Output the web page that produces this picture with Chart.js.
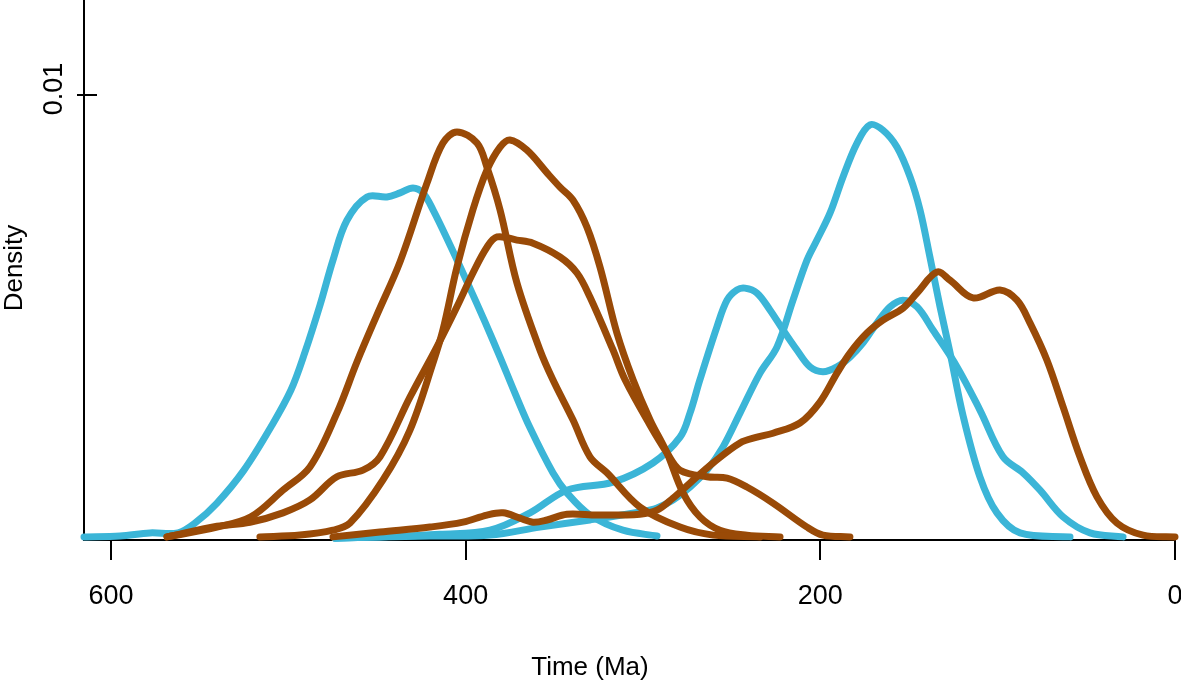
<!DOCTYPE html>
<html>
<head>
<meta charset="utf-8">
<script src="https://cdn.jsdelivr.net/npm/chart.js@4"></script>
<style>
  body { margin: 0; background: #fff; }
  #wrap { width: 1181px; height: 682px; position: relative; }
</style>
</head>
<body>
<div id="wrap"><canvas id="densityChart"></canvas></div>
<script>
// ticks
const xTicks = [600, 400, 200, 0];
const yTicks = [0.01];
const xMax = 615.2;
const yMax = 0.012135;

// blue curves (age in Ma, density)
const blueAAge = [615.2, 594.9, 578.0, 562.2, 552.6, 540.2, 525.0, 509.8, 498.5, 490.6, 482.1, 474.8, 467.0, 455.6, 444.4, 437.0, 429.7, 424.1, 418.4, 408.8, 399.2, 389.1, 380.6, 372.2, 363.7, 350.8, 342.9, 329.9, 311.3, 292.1];
const blueADens = [0.00007, 0.00009, 0.00016, 0.00016, 0.00038, 0.00083, 0.00157, 0.00254, 0.00337, 0.00422, 0.00528, 0.00629, 0.00718, 0.00771, 0.00771, 0.00780, 0.00791, 0.00780, 0.00742, 0.00663, 0.00580, 0.00490, 0.00411, 0.00330, 0.00252, 0.00151, 0.00106, 0.00056, 0.00022, 0.00009];

const blueBAge = [473.7, 448.3, 420.1, 386.3, 358.1, 329.9, 301.7, 292.1, 283.1, 273.5, 263.9, 254.9, 245.3, 234.0, 224.4, 215.4, 207.5, 201.9, 194.5, 187.2, 179.3, 172.0, 164.7, 156.8, 149.4, 143.8, 138.2, 132.5, 126.9, 119.6, 110.0, 100.4, 87.4, 59.2];
const blueBDens = [0.00004, 0.00007, 0.00009, 0.00011, 0.00029, 0.00045, 0.00063, 0.00072, 0.00090, 0.00119, 0.00157, 0.00209, 0.00285, 0.00375, 0.00434, 0.00539, 0.00629, 0.00674, 0.00735, 0.00816, 0.00892, 0.00933, 0.00921, 0.00883, 0.00816, 0.00742, 0.00636, 0.00524, 0.00422, 0.00281, 0.00142, 0.00061, 0.00016, 0.00007];

const blueCAge = [473.7, 448.3, 414.5, 386.3, 363.7, 342.9, 316.9, 294.4, 279.1, 273.5, 267.9, 258.3, 252.6, 247.0, 242.5, 235.7, 228.4, 221.0, 213.2, 205.8, 198.5, 190.6, 183.3, 175.9, 168.0, 160.7, 153.4, 145.5, 136.5, 122.9, 110.0, 97.0, 85.7, 76.1, 63.1, 47.9, 29.3];
const blueCDens = [0.00004, 0.00007, 0.00013, 0.00022, 0.00061, 0.00112, 0.00130, 0.00173, 0.00231, 0.00285, 0.00360, 0.00479, 0.00539, 0.00562, 0.00566, 0.00555, 0.00517, 0.00472, 0.00427, 0.00389, 0.00378, 0.00389, 0.00411, 0.00443, 0.00488, 0.00524, 0.00539, 0.00524, 0.00472, 0.00389, 0.00292, 0.00187, 0.00151, 0.00112, 0.00052, 0.00016, 0.00007];

// brown curves
const brownAAge = [568.4, 540.2, 521.1, 503.0, 487.8, 472.6, 461.3, 450.0, 437.0, 421.8, 412.8, 404.9, 393.6, 388.0, 380.6, 371.1, 358.1, 350.8, 339.5, 329.9, 320.3, 301.7, 279.1, 260.5, 234.0];
const brownADens = [0.00007, 0.00029, 0.00052, 0.00112, 0.00164, 0.00285, 0.00400, 0.00506, 0.00625, 0.00802, 0.00892, 0.00917, 0.00892, 0.00838, 0.00742, 0.00578, 0.00427, 0.00360, 0.00270, 0.00187, 0.00151, 0.00074, 0.00029, 0.00011, 0.00007];

const brownBAge = [516.0, 493.4, 474.8, 465.2, 446.6, 431.4, 418.4, 412.8, 404.9, 395.9, 388.0, 380.6, 375.0, 365.4, 354.1, 346.8, 339.5, 331.6, 324.2, 314.7, 305.6, 296.0, 286.5, 277.4, 267.9, 256.6, 241.4, 222.7];
const brownBDens = [0.00007, 0.00011, 0.00022, 0.00038, 0.00135, 0.00247, 0.00398, 0.00472, 0.00613, 0.00742, 0.00831, 0.00883, 0.00899, 0.00876, 0.00825, 0.00793, 0.00764, 0.00703, 0.00613, 0.00465, 0.00360, 0.00270, 0.00196, 0.00106, 0.00052, 0.00022, 0.00011, 0.00007];

const brownCAge = [568.4, 540.2, 521.6, 503.0, 487.8, 472.6, 457.9, 448.3, 431.4, 416.2, 404.9, 395.9, 388.0, 382.3, 371.1, 362.0, 346.8, 337.2, 329.9, 316.9, 310.1, 296.0, 286.5, 279.1, 263.9, 252.6, 241.4, 226.7, 207.5, 198.5, 183.3];
const brownCDens = [0.00007, 0.00031, 0.00040, 0.00061, 0.00090, 0.00142, 0.00157, 0.00187, 0.00321, 0.00434, 0.00524, 0.00600, 0.00658, 0.00681, 0.00674, 0.00667, 0.00636, 0.00600, 0.00546, 0.00427, 0.00360, 0.00258, 0.00196, 0.00157, 0.00142, 0.00139, 0.00119, 0.00083, 0.00029, 0.00011, 0.00007];

const brownDAge = [474.8, 448.3, 420.1, 401.5, 388.0, 378.9, 369.4, 362.0, 354.1, 342.9, 325.9, 301.7, 292.1, 283.1, 273.5, 260.5, 245.3, 235.7, 226.7, 211.5, 200.2, 190.6, 183.3, 173.7, 164.7, 153.4, 145.5, 134.2, 126.9, 113.9, 98.7, 89.1, 81.8, 72.2, 63.1, 53.6, 44.0, 32.7, 18.0, 0];
const brownDDens = [0.00007, 0.00018, 0.00029, 0.00040, 0.00056, 0.00061, 0.00049, 0.00040, 0.00045, 0.00058, 0.00056, 0.00058, 0.00067, 0.00094, 0.00128, 0.00173, 0.00218, 0.00231, 0.00240, 0.00263, 0.00310, 0.00375, 0.00420, 0.00465, 0.00494, 0.00521, 0.00555, 0.00602, 0.00584, 0.00544, 0.00562, 0.00539, 0.00488, 0.00404, 0.00299, 0.00187, 0.00097, 0.00038, 0.00011, 0.00007];

const BLUE = "#3bb5d7";
const BROWN = "#994a07";
const FONT = "'Liberation Sans', Arial, Helvetica, sans-serif";

function toPoints(ages, dens) {
    return ages.map((a, i) => ({ x: a, y: dens[i] }));
}

function curve(ages, dens, color, order) {
    return {
        data: toPoints(ages, dens),
        borderColor: color,
        borderWidth: 7,
        borderCapStyle: "round",
        borderJoinStyle: "round",
        pointRadius: 0,
        fill: false,
        tension: 0.35,
        clip: 8,
        order: order
    };
}

// draws the R style axes: L box, outward x ticks, crossing y tick
const axesPlugin = {
    id: "axes",
    beforeDatasetsDraw(chart) {
        const c = chart.ctx;
        const a = chart.chartArea;
        const xs = chart.scales.x;
        const ys = chart.scales.y;
        c.save();
        c.strokeStyle = "#000";
        c.lineWidth = 2;
        c.beginPath();
        c.moveTo(a.left, a.top);
        c.lineTo(a.left, a.bottom);
        c.lineTo(a.right, a.bottom);
        xTicks.forEach(v => {
            const px = Math.round(xs.getPixelForValue(v));
            c.moveTo(px, a.bottom);
            c.lineTo(px, a.bottom + 20);
        });
        yTicks.forEach(v => {
            const py = Math.round(ys.getPixelForValue(v));
            c.moveTo(a.left - 7, py);
            c.lineTo(a.left + 13, py);
        });
        c.stroke();

        c.fillStyle = "#000";
        c.font = "27px " + FONT;
        c.textAlign = "center";
        c.textBaseline = "alphabetic";
        xTicks.forEach(v => {
            c.fillText(String(v), xs.getPixelForValue(v), 604);
        });
        yTicks.forEach(v => {
            c.save();
            c.translate(62, ys.getPixelForValue(v) - 6);
            c.rotate(-Math.PI / 2);
            c.fillText(String(v), 0, 0);
            c.restore();
        });

        c.font = "26px " + FONT;
        c.fillText("Time (Ma)", 590, 675);
        c.save();
        c.translate(22, 268);
        c.rotate(-Math.PI / 2);
        c.fillText("Density", 0, 0);
        c.restore();
        c.restore();
    }
};

const ctx = document.getElementById("densityChart");

const chart = new Chart(ctx, {
    type: "line",
    data: {
        datasets: [
            curve(brownAAge, brownADens, BROWN, 0),
            curve(brownBAge, brownBDens, BROWN, 0),
            curve(brownCAge, brownCDens, BROWN, 0),
            curve(brownDAge, brownDDens, BROWN, 0),
            curve(blueAAge, blueADens, BLUE, 1),
            curve(blueBAge, blueBDens, BLUE, 1),
            curve(blueCAge, blueCDens, BLUE, 1)
        ]
    },
    options: {
        responsive: true,
        maintainAspectRatio: false,
        devicePixelRatio: 1,
        animation: false,
        layout: { padding: { left: 84, right: 6, top: 0, bottom: 142 } },
        plugins: {
            legend: { display: false },
            tooltip: { enabled: false }
        },
        scales: {
            x: { type: "linear", reverse: true, min: 0, max: xMax, display: false },
            y: { type: "linear", min: 0, max: yMax, display: false }
        }
    },
    plugins: [axesPlugin]
});
</script>
</body>
</html>
